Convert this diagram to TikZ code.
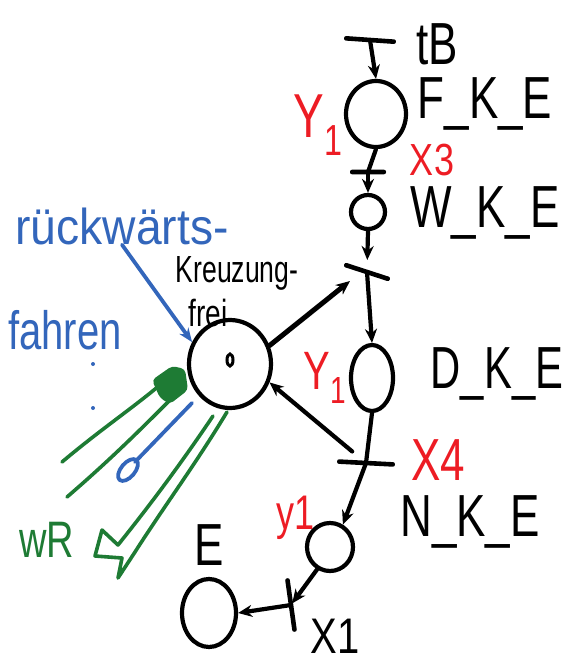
\documentclass[tikz,border=0pt]{standalone}
\usepackage{fontspec}
\setmainfont{Liberation Sans}
\usetikzlibrary{arrows.meta,shapes.geometric}
\definecolor{pred}{RGB}{237,28,36}
\definecolor{pblue}{RGB}{51,102,187}
\definecolor{pgreen}{RGB}{30,123,52}
\newcommand\mytall[2][1]{\scalebox{#1}[1.35]{#2}}
\begin{document}
\begin{tikzpicture}[x=1pt,y=-1pt,
  pen/.style={line width=4.2pt,line cap=round,line join=round},
  place/.style={ellipse,draw,pen,inner sep=0pt},
  bar/.style={fill=black,inner sep=0pt,minimum height=4.6pt,rounded corners=2pt},
  arr/.style={pen,-{Stealth[length=14pt,width=12pt]}},
  lbl/.style={inner sep=0pt,font=\fontsize{44}{46}\selectfont},
  redlbl/.style={inner sep=0pt,text=pred},
  bluepen/.style={pen,draw=pblue,line width=3.8pt},
  greenpen/.style={pen,draw=pgreen,line width=3.6pt}]
\useasboundingbox (0,0) rectangle (570,664);

% places
\node[place,minimum width=60pt,minimum height=66pt] (fke) at (376,114) {};
\node[place,minimum width=34pt,minimum height=34pt] (wke) at (368,212) {};
\node[place,minimum width=42pt,minimum height=66pt] (dke) at (372,378) {};
\node[place,minimum width=82pt,minimum height=88pt] (kf) at (230,364) {};
\node[ellipse,draw,line width=3pt,minimum width=6pt,minimum height=12pt,inner sep=0pt] (tok) at (230,360) {};
\node[place,minimum width=46pt,minimum height=48pt] (nke) at (330,547) {};
\node[place,minimum width=54pt,minimum height=68pt] (e) at (209,613) {};

% transitions
\node[bar,minimum width=52pt,rotate=-4] (tb) at (370,40) {};
\node[bar,minimum width=36pt] (x3) at (368,172) {};
\node[bar,minimum width=48pt,rotate=-18] (t2) at (367,272) {};
\node[bar,minimum width=58pt,rotate=-3] (x4) at (366,463) {};
\node[bar,minimum width=54pt,rotate=98] (x1) at (291,605) {};
\coordinate (t2in) at (350,281);

% arcs
\draw[arr] (tb.center) -- (fke.north);
\draw[pen] (fke.south) -- (x3.center);
\draw[arr] (x3.center) -- (wke.north);
\draw[arr,shorten >=12pt] (wke.south) -- (t2.center);
\draw[arr] (t2.center) -- (dke.north);
\draw[arr,line width=5pt] (kf.25) -- (t2in);
\draw[pen] (dke.south) -- (x4.center);
\draw[arr,shorten <=18pt] (x4.center) -- (kf.-25);
\draw[arr] (x4.center) -- (nke.60);
\draw[arr,shorten >=2pt] (nke.-120) -- (x1.center);
\draw[arr] (x1.center) -- (e.east);

% black labels
\node[lbl] (ltb) at (437,44) {\mytall{tB}};
\node[lbl] (lfke) at (485,104) {\mytall{F\_K\_E}};
\node[lbl] (lwke) at (485,213) {\mytall{W\_K\_E}};
\node[lbl] (ldke) at (497,374) {\mytall[0.95]{D\_K\_E}};
\node[lbl] (lnke) at (470,522) {\mytall{N\_K\_E}};
\node[lbl] (le) at (209,545) {\mytall{E}};
\node[inner sep=0pt,font=\fontsize{40}{42}\selectfont] (lx1) at (335,636) {\scalebox{1}[1.25]{X1}};
\node[inner sep=0pt,font=\fontsize{28}{30}\selectfont] (lkr) at (237,273) {\mytall[0.95]{Kreuzung-}};
\node[inner sep=0pt,font=\fontsize{28}{30}\selectfont] (lfr) at (208,313) {\mytall{frei}};

% red labels
\node[redlbl,font=\fontsize{36}{38}\selectfont] (lx3) at (432,160) {\scalebox{1}[1.25]{X3}};
\node[redlbl,font=\fontsize{44}{46}\selectfont] (lx4) at (438,460) {\mytall{X4}};
\node[redlbl,font=\fontsize{46}{48}\selectfont] (ly1) at (318,125) {\mytall{Y\textsubscript{1}}};
\node[redlbl,font=\fontsize{40}{42}\selectfont] (ly2) at (325,378) {\mytall{Y\textsubscript{1}}};
\node[redlbl,font=\fontsize{36}{38}\selectfont] (ly3) at (296,518) {\mytall{y1}};

% blue annotation
\node[inner sep=0pt,text=pblue,font=\fontsize{42}{44}\selectfont] (lrw) at (122,226) {\scalebox{1.1}[1.2]{rückwärts-}};
\node[inner sep=0pt,text=pblue,font=\fontsize{40}{42}\selectfont] (lfa) at (65,330) {\mytall{fahren}};
\draw[bluepen,-{Stealth[length=14pt,width=11pt]}] (lrw.south) -- (kf.150);
\draw[bluepen] (192,403) -- (135,462);
\draw[bluepen] (128,470) ellipse[x radius=7,y radius=13,rotate=-40];
\fill[pblue] (93,364) circle[radius=2];
\fill[pblue] (93,408) circle[radius=2];

% green arrows
\draw[greenpen] (62,462) .. controls (100,430) and (130,410) .. (160,385);
\draw[greenpen] (67,497) .. controls (110,460) and (140,430) .. (170,400);
\fill[pgreen,rounded corners=4pt] (152,380) -- (172,366) -- (185,369) -- (188,390) -- (170,404) -- (160,398) -- cycle;
\draw[greenpen] (213,416) .. controls (180,465) and (150,505) .. (118,545) -- (102,530) -- (95,556) -- (122,558) -- (118,578) -- (135,552) .. controls (165,505) and (195,465) .. (227,412);
\node[inner sep=0pt,text=pgreen,font=\fontsize{38}{40}\selectfont] (lwr) at (47,540) {\mytall{wR}};
\end{tikzpicture}
\end{document}
